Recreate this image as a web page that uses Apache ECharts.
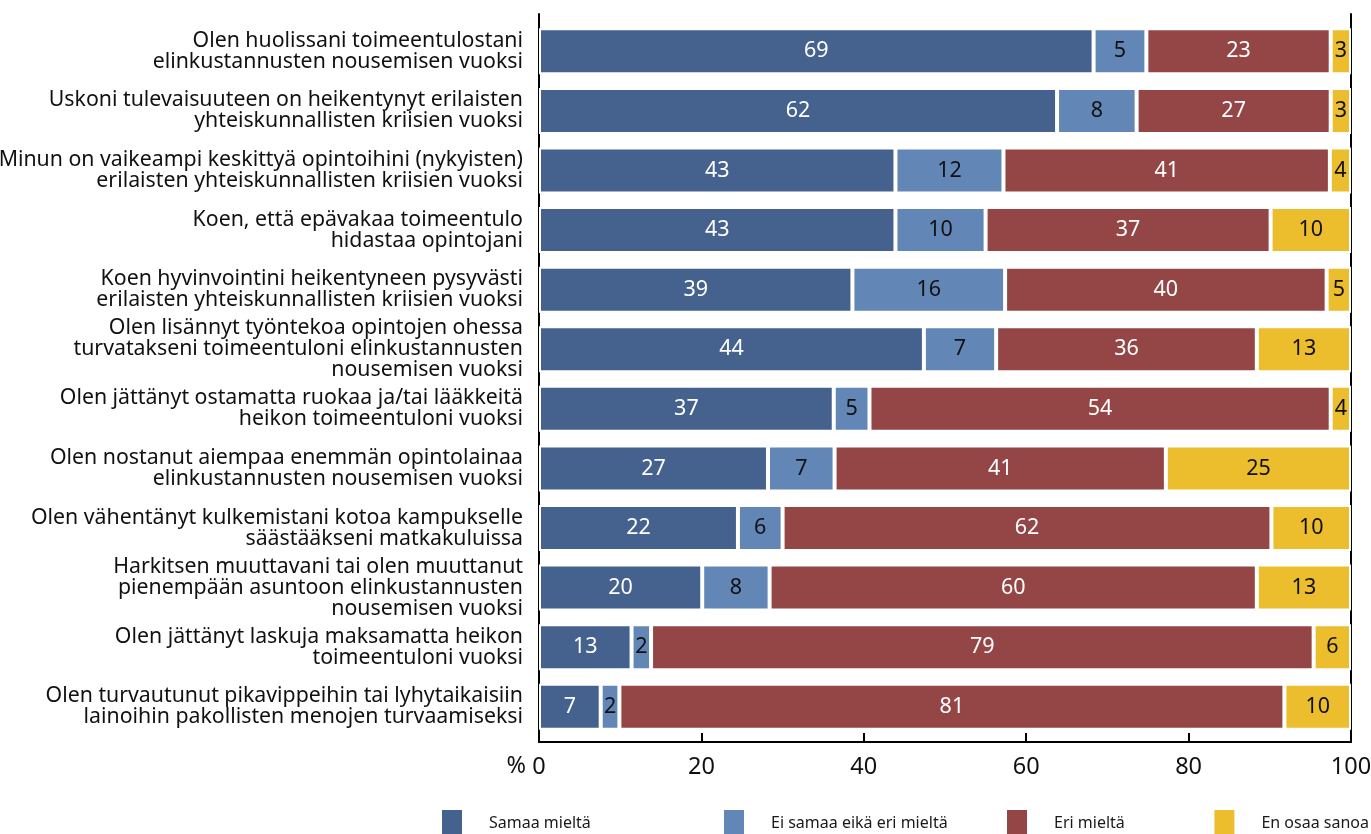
<!DOCTYPE html>
<html>
<head>
<meta charset="utf-8">
<script src="https://cdn.jsdelivr.net/npm/echarts@6/dist/echarts.min.js"></script>
<style>
html,body{margin:0;padding:0;background:#fff;}
#chart{width:1371px;height:834px;}
</style>
</head>
<body>
<div id="chart"></div>
<script>
var categories = [
  "Olen huolissani toimeentulostani\nelinkustannusten nousemisen vuoksi",
  "Uskoni tulevaisuuteen on heikentynyt erilaisten\nyhteiskunnallisten kriisien vuoksi",
  "Minun on vaikeampi keskittyä opintoihini (nykyisten)\nerilaisten yhteiskunnallisten kriisien vuoksi",
  "Koen, että epävakaa toimeentulo\nhidastaa opintojani",
  "Koen hyvinvointini heikentyneen pysyvästi\nerilaisten yhteiskunnallisten kriisien vuoksi",
  "Olen lisännyt työntekoa opintojen ohessa\nturvatakseni toimeentuloni elinkustannusten\nnousemisen vuoksi",
  "Olen jättänyt ostamatta ruokaa ja/tai lääkkeitä\nheikon toimeentuloni vuoksi",
  "Olen nostanut aiempaa enemmän opintolainaa\nelinkustannusten nousemisen vuoksi",
  "Olen vähentänyt kulkemistani kotoa kampukselle\nsäästääkseni matkakuluissa",
  "Harkitsen muuttavani tai olen muuttanut\npienempään asuntoon elinkustannusten\nnousemisen vuoksi",
  "Olen jättänyt laskuja maksamatta heikon\ntoimeentuloni vuoksi",
  "Olen turvautunut pikavippeihin tai lyhytaikaisiin\nlainoihin pakollisten menojen turvaamiseksi"
];
var seriesNames = ["Samaa mieltä", "Ei samaa eikä eri mieltä", "Eri mieltä", "En osaa sanoa"];

// bar lengths as drawn (%)
var samaa = [68.3, 63.8, 43.9, 43.9, 38.6, 47.4, 36.3, 28.2, 24.5, 20.1, 11.4, 7.6];
var eiSamaa = [6.5, 9.8, 13.3, 11.1, 18.8, 8.9, 4.4, 8.2, 5.5, 8.3, 2.4, 2.3];
var eri = [22.7, 23.9, 40.2, 35.1, 39.6, 32.1, 56.8, 40.8, 60.2, 60.0, 81.6, 81.9];
var enOsaa = [2.5, 2.5, 2.6, 9.9, 3.0, 11.6, 2.5, 22.8, 9.8, 11.6, 4.6, 8.2];

// printed value labels
var samaaLbl = [69, 62, 43, 43, 39, 44, 37, 27, 22, 20, 13, 7];
var eiSamaaLbl = [5, 8, 12, 10, 16, 7, 5, 7, 6, 8, 2, 2];
var eriLbl = [23, 27, 41, 37, 40, 36, 54, 41, 62, 60, 79, 81];
var enOsaaLbl = [3, 3, 4, 10, 5, 13, 4, 25, 10, 13, 6, 10];

var xTicks = [0, 20, 40, 60, 80, 100];

var colors = ["#45618e", "#6286b5", "#944646", "#ecbd2c"];
var labelColors = ["#ffffff", "#111111", "#ffffff", "#111111"];
var FONT = "Noto Sans";

var values = [samaa, eiSamaa, eri, enOsaa];
var labels = [samaaLbl, eiSamaaLbl, eriLbl, enOsaaLbl];

var series = seriesNames.map(function (name, i) {
  return {
    name: name,
    type: "bar",
    stack: "total",
    xAxisIndex: 0,
    yAxisIndex: 0,
    barWidth: 46,
    data: values[i],
    itemStyle: { color: colors[i], borderColor: "#ffffff", borderWidth: 2 },
    label: {
      show: true,
      position: "inside",
      color: labelColors[i],
      fontFamily: FONT,
      fontSize: 21.5,
      formatter: function (p) { return labels[i][p.dataIndex]; }
    },
    emphasis: { disabled: true },
    animation: false
  };
});

var legendPos = [{ left: 440 }, { left: 722 }, { left: 1005 }, { right: 2 }];
var legends = seriesNames.map(function (name, i) {
  var l = {
    data: [name],
    top: 808,
    padding: 0,
    icon: "rect",
    itemWidth: 22,
    itemHeight: 28,
    selectedMode: false,
    textStyle: { fontFamily: FONT, fontSize: 16, color: "#1a1a1a", padding: [0, 0, 0, 21] }
  };
  for (var k in legendPos[i]) l[k] = legendPos[i][k];
  return l;
});

var option = {
  backgroundColor: "#ffffff",
  animation: false,
  color: colors,
  legend: legends,
  grid: [
    { left: 539, width: 812, top: 21.5, height: 715, containLabel: false, outerBoundsMode: "none" },
    { left: 539, width: 812, top: 14, height: 728, containLabel: false, outerBoundsMode: "none" }
  ],
  xAxis: [
    {
      type: "value",
      gridIndex: 0,
      min: 0,
      max: 100,
      interval: 20,
      offset: 5.5,
      axisLine: { show: true, lineStyle: { color: "#000", width: 2 } },
      axisTick: { show: true, inside: true, length: 9, lineStyle: { color: "#000", width: 2 } },
      splitLine: { show: false },
      axisLabel: {
        margin: 13,
        fontFamily: FONT,
        fontSize: 23.5,
        color: "#111",
        formatter: function (v) { return xTicks.indexOf(v) >= 0 ? String(v) : ""; }
      }
    },
    { type: "value", gridIndex: 1, min: 0, max: 100, show: false }
  ],
  yAxis: [
    {
      type: "category",
      gridIndex: 0,
      inverse: true,
      data: categories,
      axisLine: { show: false },
      axisTick: { show: false },
      axisLabel: {
        margin: 16,
        fontFamily: FONT,
        fontSize: 21.3,
        lineHeight: 21,
        color: "#111",
        align: "right"
      }
    },
    {
      type: "value",
      gridIndex: 1,
      position: "left",
      min: 0, max: 1,
      axisLine: { show: true, lineStyle: { color: "#000", width: 2 } },
      axisTick: { show: false },
      axisLabel: { show: false },
      splitLine: { show: false }
    },
    {
      type: "value",
      gridIndex: 1,
      position: "right",
      min: 0, max: 1,
      axisLine: { show: true, lineStyle: { color: "#000", width: 2 } },
      axisTick: { show: false },
      axisLabel: { show: false },
      splitLine: { show: false }
    }
  ],
  graphic: [
    {
      type: "text",
      x: 526,
      y: 766,
      style: { text: "%", fontFamily: FONT, fontSize: 23.5, fill: "#111", align: "right", verticalAlign: "middle" }
    }
  ],
  series: series
};

var chart = echarts.init(document.getElementById("chart"), null, { renderer: "canvas" });
chart.setOption(option);
</script>
</body>
</html>
